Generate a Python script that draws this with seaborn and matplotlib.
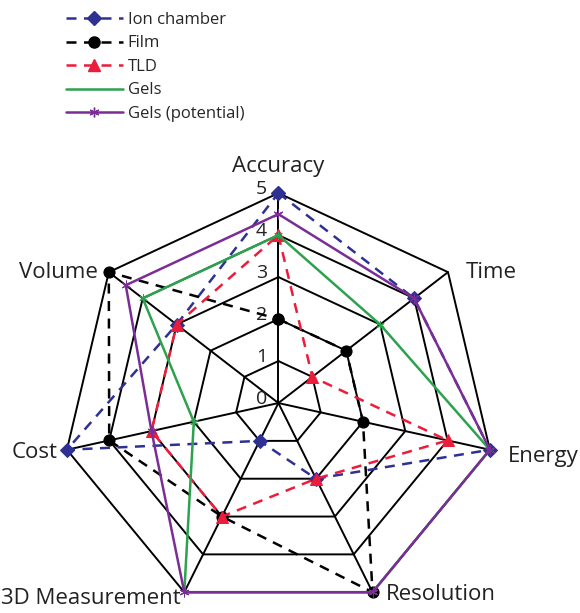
import numpy as np
import seaborn as sns
import matplotlib.pyplot as plt
from matplotlib.lines import Line2D

# criteria around the radar, clockwise from the top
criteria = ['Accuracy', 'Time', 'Energy', 'Resolution', '3D Measurement', 'Cost', 'Volume']
ion_chamber = [5, 4, 5, 2, 1, 5, 3]
film = [2, 2, 2, 5, 3, 4, 5]
tld = [4, 1, 4, 2, 3, 3, 3]
gels = [4, 3, 5, 5, 5, 2, 4]
gels_potential = [4.5, 4, 5, 5, 5, 3, 4.5]
levels = [0, 1, 2, 3, 4, 5]

sns.set_theme(style='white')
plt.rcParams['font.family'] = ['Open Sans', 'DejaVu Sans']

n = len(criteria)
theta = np.linspace(0, 2 * np.pi, n, endpoint=False)
theta_closed = np.append(theta, 2 * np.pi)


def closed(vals):
    return list(vals) + [vals[0]]


fig = plt.figure(figsize=(5.8, 6.13), dpi=100)
# the original web is a little wider than tall
ax = fig.add_axes([0.106, 0.0, 0.748, 0.685], projection='polar')
ax.set_aspect('auto')
ax.set_theta_zero_location('N')
ax.set_theta_direction(-1)
ax.set_ylim(0, 5)
ax.grid(False)
ax.set_xticks([])
ax.set_yticks([])
ax.spines['polar'].set_visible(False)
ax.patch.set_alpha(0)

# heptagon web
for lv in levels[1:]:
    ax.plot(theta_closed, [lv] * (n + 1), color='black', lw=1.4, clip_on=False, zorder=1)
for t in theta:
    ax.plot([t, t], [0, 5], color='black', lw=1.4, clip_on=False, zorder=1)

series = [
    ('Ion chamber', ion_chamber, '#2e3192', (0, (4, 3)), 'D', 7),
    ('Film', film, 'black', (0, (4, 3)), 'o', 8),
    ('TLD', tld, '#ec1c3b', (0, (4, 3)), '^', 9),
    ('Gels', gels, '#2ca24e', '-', (6, 2, 0), 6),
    ('Gels (potential)', gels_potential, '#7b2d96', '-', (6, 2, 0), 7),
]

handles = []
for name, vals, col, ls, mk, ms in series:
    sns.lineplot(x=theta_closed, y=closed(vals), ax=ax, sort=False, estimator=None,
                 color=col, linestyle=ls, lw=1.8, marker=mk, markersize=ms,
                 markeredgecolor=col, markerfacecolor=col, clip_on=False, zorder=3)
    if name == 'Gels':
        handles.append(Line2D([], [], color=col, lw=1.8))
    else:
        handles.append(Line2D([], [], color=col, linestyle=ls, lw=1.8, marker=mk,
                              markersize=ms, markeredgecolor=col, markerfacecolor=col))

# level numbers along the Accuracy spoke
for lv in levels:
    ax.annotate(str(lv), xy=(0, lv), xytext=(-17, 4), textcoords='offset pixels',
                ha='center', va='center', fontsize=14, color='#222222', zorder=2)

# criterion labels
label_pos = {
    'Accuracy': ((0, 27), 'center'),
    'Time': ((18, 0), 'left'),
    'Energy': ((18, -7), 'left'),
    'Resolution': ((13, -2), 'left'),
    '3D Measurement': ((-4, -6), 'right'),
    'Cost': ((-9, -3), 'right'),
    'Volume': ((-11, 0), 'right'),
}
for t, name in zip(theta, criteria):
    off, ha = label_pos[name]
    ax.annotate(name, xy=(t, 5), xytext=off, textcoords='offset pixels',
                ha=ha, va='center', fontsize=16, color='#222222', annotation_clip=False)

fig.legend(handles, [s[0] for s in series], loc='upper left', bbox_to_anchor=(0.088, 1.005),
           frameon=False, fontsize=12, handlelength=3.4, labelspacing=0.45,
           handletextpad=0.3)

fig.savefig('out.png', dpi=100)
